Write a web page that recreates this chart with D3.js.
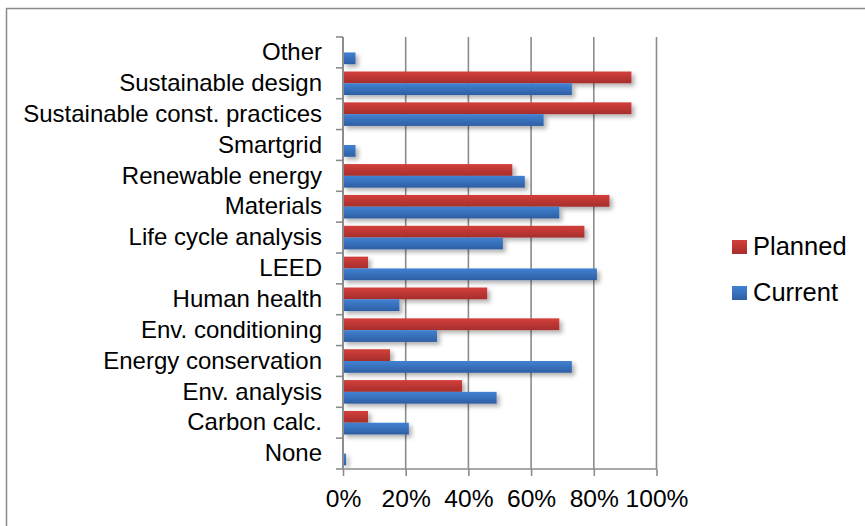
<!DOCTYPE html>
<html><head><meta charset="utf-8">
<script src="https://cdn.jsdelivr.net/npm/d3@7"></script>
<style>
html,body{margin:0;padding:0;background:#fff;}
svg{display:block;font-family:"Liberation Sans",Arial,sans-serif;}
</style></head>
<body><svg id="chart" width="865" height="526"></svg>
<script>
const categories = ["Other","Sustainable design","Sustainable const. practices","Smartgrid","Renewable energy","Materials","Life cycle analysis","LEED","Human health","Env. conditioning","Energy conservation","Env. analysis","Carbon calc.","None"];
const planned = [0,92,92,0,54,85,77,8,46,69,15,38,8,0];
const current = [4,73,64,4,58,69,51,81,18,30,73,49,21,1];
const seriesNames = ["Planned","Current"];
const xTicks = [0,20,40,60,80,100];

const svg = d3.select("#chart");
const defs = svg.append("defs");
function grad(id, c1, c2){
  const g = defs.append("linearGradient").attr("id", id).attr("x1",0).attr("y1",0).attr("x2",0).attr("y2",1);
  g.append("stop").attr("offset","0%").attr("stop-color",c1);
  g.append("stop").attr("offset","100%").attr("stop-color",c2);
}
grad("gRed","#d43f3b","#a52e2c");
grad("gBlue","#4182d3","#2e5ea3");
const f = defs.append("filter").attr("id","sh").attr("x","-10%").attr("y","-50%").attr("width","130%").attr("height","250%");
f.append("feDropShadow").attr("dx",3).attr("dy",3).attr("stdDeviation",2).attr("flood-color","#000").attr("flood-opacity",0.3);

// frame
svg.append("path").attr("d","M6.5,530 V8.5 H870").attr("fill","none").attr("stroke","#8a8a8a").attr("stroke-width",1.5);

const x = d3.scaleLinear().domain([0,100]).range([343,656.5]);
const y = d3.scaleBand().domain(categories).range([37,469]).paddingInner(0).paddingOuter(0);
const inner = d3.scaleBand().domain(seriesNames).range([0,y.bandwidth()]).paddingInner(0).paddingOuter(0.31);

// gridlines
svg.append("g").selectAll("line").data(xTicks.slice(1)).join("line")
  .attr("x1",d=>x(d)).attr("x2",d=>x(d)).attr("y1",37).attr("y2",469)
  .attr("stroke","#8c8c8c").attr("stroke-width",1.6);

// bars
const rows = categories.map((c,i)=>({c, Planned:planned[i], Current:current[i]}));
const g = svg.append("g").attr("filter","url(#sh)");
rows.forEach(r=>{
  seriesNames.forEach(s=>{
    if (r[s] <= 0) return;
    g.append("rect")
      .attr("x", x(0))
      .attr("y", y(r.c)+inner(s))
      .attr("width", x(r[s])-x(0))
      .attr("height", inner.bandwidth())
      .attr("fill", s==="Planned" ? "url(#gRed)" : "url(#gBlue)");
  });
});

// y axis
const ya = svg.append("g").attr("transform","translate(343,0)")
  .call(d3.axisLeft(y).tickSize(0).tickPadding(21));
ya.select(".domain").remove();
ya.selectAll("text").attr("font-size",24).attr("fill","#000").attr("font-family","Liberation Sans, Arial, sans-serif");
const bounds = categories.map(c=>y(c)).concat([469]);
svg.append("g").selectAll("line").data(bounds).join("line")
  .attr("x1",336).attr("x2",343).attr("y1",d=>d).attr("y2",d=>d)
  .attr("stroke","#8c8c8c").attr("stroke-width",1.6);
svg.append("line").attr("x1",343).attr("x2",343).attr("y1",37).attr("y2",469)
  .attr("stroke","#8c8c8c").attr("stroke-width",2);

// x axis
const xa = svg.append("g").attr("transform","translate(0,469)")
  .call(d3.axisBottom(x).tickValues(xTicks).tickFormat(d=>d+"%").tickSize(7).tickPadding(14));
xa.select(".domain").attr("stroke","#8c8c8c").attr("stroke-width",1.6).attr("d","M343,0H656.5");
xa.selectAll(".tick line").attr("stroke","#8c8c8c").attr("stroke-width",1.6);
xa.selectAll("text").attr("font-size",24.6).attr("fill","#000").attr("font-family","Liberation Sans, Arial, sans-serif");

// legend
const lg = svg.append("g");
const legendItems = [{n:"Planned", fill:"url(#gRed)", y:240},{n:"Current", fill:"url(#gBlue)", y:286}];
legendItems.forEach(it=>{
  lg.append("rect").attr("x",732).attr("y",it.y).attr("width",15).attr("height",14).attr("fill",it.fill);
  lg.append("text").attr("x",753).attr("y",it.y+15).attr("font-size",25.5).attr("fill","#000").text(it.n);
});
</script></body></html>
